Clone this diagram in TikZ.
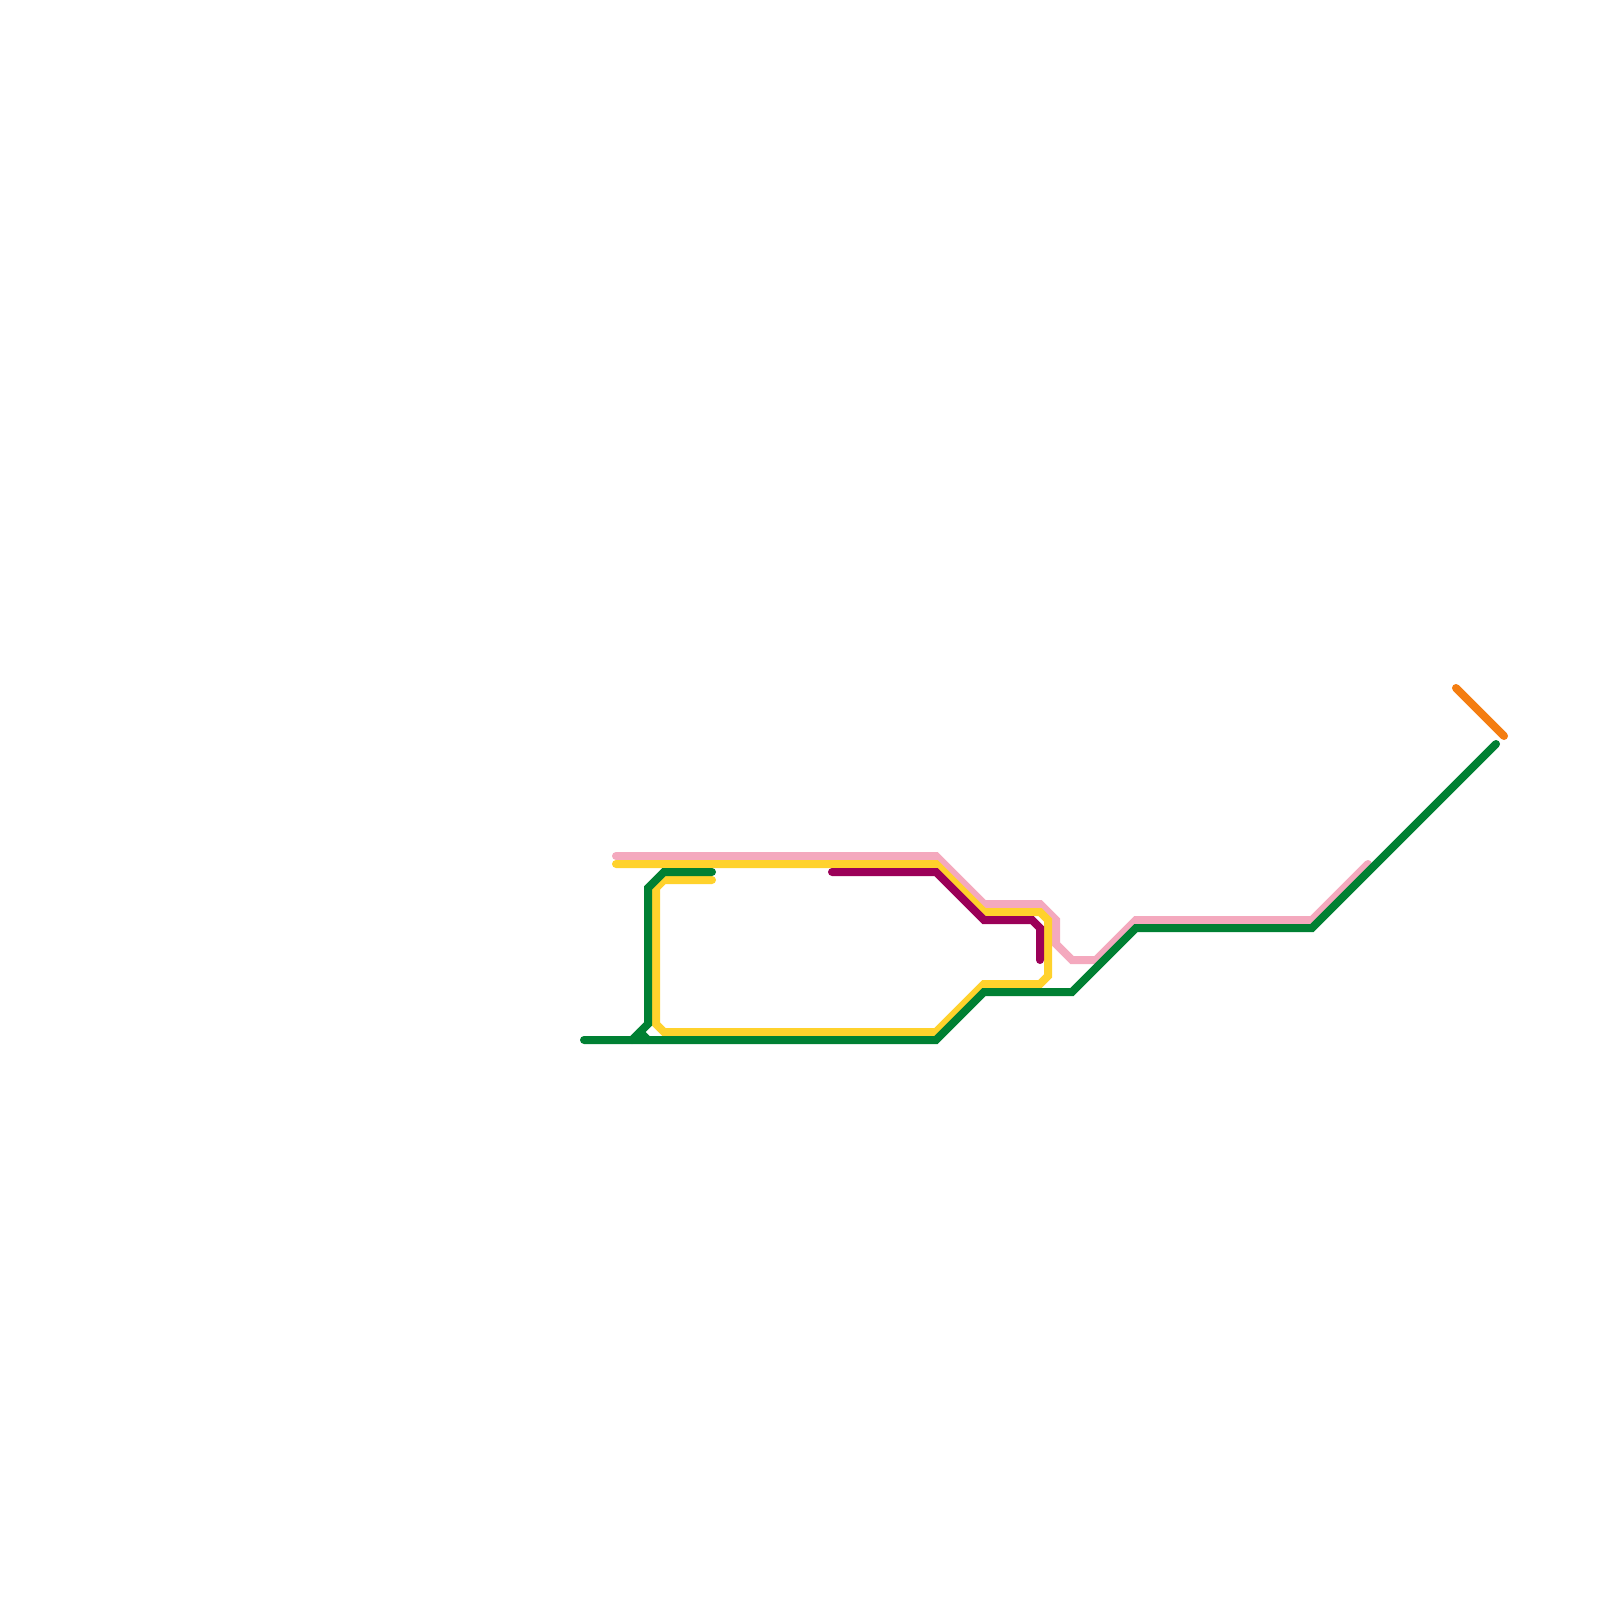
\documentclass[tikz,border=0pt]{standalone}
\definecolor{linepink}{HTML}{F4A9BE}
\definecolor{lineyellow}{HTML}{FFD22C}
\definecolor{linepurple}{HTML}{9B0058}
\definecolor{linegreen}{HTML}{008033}
\definecolor{lineorange}{HTML}{F47D10}
\tikzset{
  route/.style={line width=8pt,line cap=round,line join=miter,miter limit=10},
}
\begin{document}
\begin{tikzpicture}[x=1pt,y=-1pt]
\useasboundingbox (0,0) rectangle (1600,1600);
\fill[white] (0,0) rectangle (1600,1600);
% pink line
\draw[route,linepink] (616,856) -- (936,856) -- (984,904) -- (1040,904) -- (1056,920) -- (1056,944) -- (1072,960) -- (1096,960) -- (1136,920) -- (1312,920) -- (1368,864);
% yellow line
\draw[route,lineyellow] (616,864) -- (936,864) -- (984,912) -- (1040,912) -- (1048,920) -- (1048,976) -- (1040,984) -- (984,984) -- (936,1032) -- (664,1032) -- (656,1024) -- (656,888) -- (664,880) -- (712,880);
% purple line
\draw[route,linepurple] (832,872) -- (936,872) -- (984,920) -- (1032,920) -- (1040,928) -- (1040,960);
% green line
\draw[route,linegreen] (584,1040) -- (936,1040) -- (984,992) -- (1072,992) -- (1136,928) -- (1312,928) -- (1496,744);
\draw[route,linegreen] (712,872) -- (664,872) -- (648,888) -- (648,1024) -- (632,1040);
\draw[route,linegreen] (640,1032) -- (648,1040);
% orange line
\draw[route,lineorange] (1456,688) -- (1504,736);
\end{tikzpicture}
\end{document}
